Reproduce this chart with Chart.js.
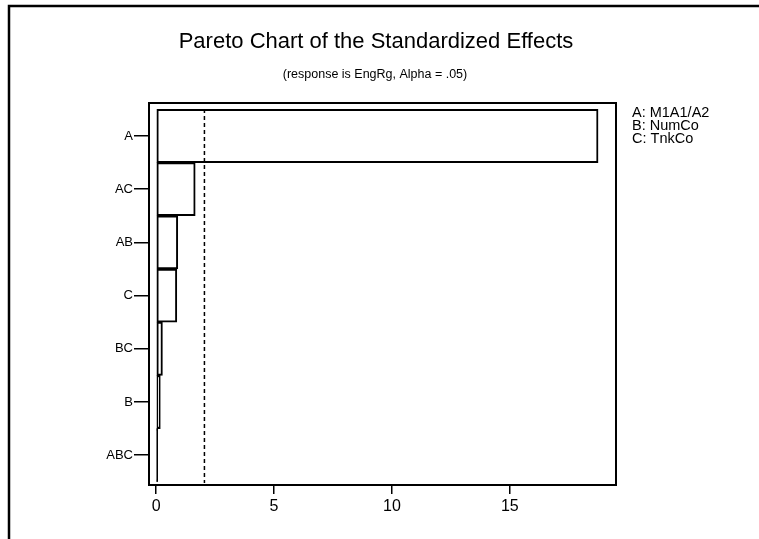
<!DOCTYPE html>
<html>
<head>
<meta charset="utf-8">
<script src="https://cdn.jsdelivr.net/npm/chart.js@4.4.1/dist/chart.umd.min.js"></script>
<style>
  html, body { margin: 0; padding: 0; background: #fff; }
  #wrap { width: 759px; height: 539px; }
</style>
</head>
<body>
<div id="wrap"><canvas id="grafico"></canvas></div>
<script>
// datos del grafico
const efectos = ['A', 'AC', 'AB', 'C', 'BC', 'B', 'ABC'];
const valores = [18.74, 1.66, 0.92, 0.88, 0.27, 0.18, 0.05];
const ticksX = [0, 5, 10, 15];
const leyenda = ['A: M1A1/A2', 'B: NumCo', 'C: TnkCo'];
const valorCritico = 2.05;

const fuente = "'Liberation Sans', Arial, Helvetica, sans-serif";

const puntos = valores.map((v, i) => ({ x: v, y: i }));

const textosExtra = {
    id: 'textosExtra',
    beforeDraw(chart) {
        const { ctx } = chart;
        ctx.save();
        ctx.fillStyle = '#fff';
        ctx.fillRect(0, 0, chart.width, chart.height);
        // marco de la pagina (solo arriba e izquierda)
        ctx.strokeStyle = '#000';
        ctx.lineWidth = 2.5;
        ctx.beginPath();
        ctx.moveTo(chart.width, 6);
        ctx.lineTo(9, 6);
        ctx.lineTo(9, chart.height);
        ctx.stroke();
        ctx.restore();
    },
    afterDraw(chart) {
        const { ctx, chartArea } = chart;
        const x = chart.scales.x;
        ctx.save();

        // linea critica punteada
        const px = x.getPixelForValue(valorCritico);
        ctx.strokeStyle = '#000';
        ctx.lineWidth = 1.5;
        ctx.setLineDash([4, 3]);
        ctx.beginPath();
        ctx.moveTo(px, chartArea.top + 6);
        ctx.lineTo(px, chartArea.bottom - 2);
        ctx.stroke();
        ctx.setLineDash([]);

        // el efecto ABC es casi cero: se ve como una linea
        const y = chart.scales.y;
        const i = efectos.length - 1;
        const x0 = x.getPixelForValue(0), x1 = x.getPixelForValue(valores[i]);
        ctx.lineWidth = 1.5;
        ctx.beginPath();
        ctx.moveTo(Math.max(x1, x0 + 1), y.getPixelForValue(i - 0.5));
        ctx.lineTo(Math.max(x1, x0 + 1), y.getPixelForValue(i + 0.5));
        ctx.stroke();

        // marco del area
        ctx.lineWidth = 2;
        ctx.strokeRect(chartArea.left, chartArea.top, chartArea.right - chartArea.left, chartArea.bottom - chartArea.top);

        // titulos
        ctx.fillStyle = '#000';
        ctx.textAlign = 'center';
        ctx.textBaseline = 'middle';
        ctx.font = '22px ' + fuente;
        ctx.fillText('Pareto Chart of the Standardized Effects', 376, 42);
        ctx.font = '12.5px ' + fuente;
        ctx.fillText('(response is EngRg, Alpha = .05)', 375, 75);

        // leyenda de factores
        ctx.textAlign = 'left';
        ctx.font = '14.5px ' + fuente;
        leyenda.forEach((t, k) => {
            ctx.fillText(t, 632, 113 + k * 13);
        });
        ctx.restore();
    }
};

new Chart(document.getElementById('grafico'), {
    type: 'bar',
    data: {
        datasets: [{
            data: puntos,
            backgroundColor: '#fff',
            borderColor: '#000',
            borderWidth: 2,
            borderSkipped: false,
            barPercentage: 1,
            categoryPercentage: 1
        }]
    },
    options: {
        indexAxis: 'y',
        responsive: true,
        maintainAspectRatio: false,
        animation: false,
        layout: { padding: { top: 103, right: 143, left: 0, bottom: 0 } },
        plugins: {
            legend: { display: false },
            tooltip: { enabled: false }
        },
        scales: {
            x: {
                type: 'linear',
                min: -0.3,
                max: 19.5,
                afterBuildTicks: (scale) => { scale.ticks = ticksX.map(v => ({ value: v })); },
                afterFit: (scale) => { scale.height = 54; },
                grid: { drawOnChartArea: false, drawTicks: true, tickLength: 9, color: '#000', lineWidth: 1.5 },
                border: { display: false },
                ticks: { color: '#000', font: { family: fuente, size: 16 }, padding: 3, maxRotation: 0 }
            },
            y: {
                type: 'linear',
                reverse: true,
                offset: false,
                min: -0.62,
                max: 6.56,
                afterBuildTicks: (scale) => { scale.ticks = efectos.map((c, i) => ({ value: i })); },
                afterFit: (scale) => { scale.width = 149; },
                grid: { offset: false, drawOnChartArea: false, drawTicks: true, tickLength: 15, color: '#000', lineWidth: 1.5 },
                border: { display: false },
                ticks: {
                    color: '#000',
                    font: { family: fuente, size: 13 },
                    padding: 1,
                    callback: (v) => efectos[v] ?? ''
                }
            }
        }
    },
    plugins: [textosExtra]
});
</script>
</body>
</html>
